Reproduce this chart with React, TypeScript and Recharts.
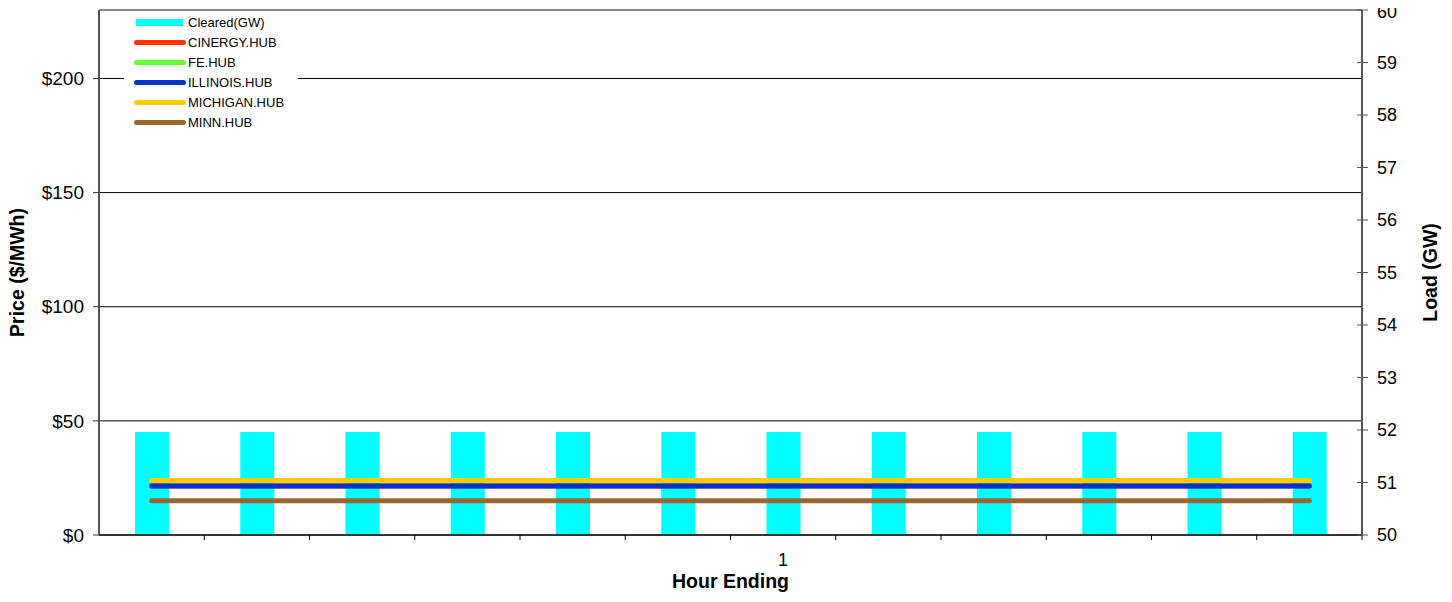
import React from 'react';
import { ComposedChart, Bar, Line, XAxis, YAxis, CartesianGrid, Legend, ReferenceLine } from 'recharts';

const FONT = "'Liberation Sans', Arial, sans-serif";

// hour buckets on the x axis, only one of them carries a label
const hours = [1, 2, 3, 4, 5, 6, 7, 8, 9, 10, 11, 12];
const hourLabels = ['', '', '', '', '', '', '1', '', '', '', '', ''];

// cleared load (GW) - right axis
const cleared = [51.96, 51.96, 51.96, 51.96, 51.96, 51.96, 51.96, 51.96, 51.96, 51.96, 51.96, 51.96];

// hub prices ($/MWh) - left axis
const cinergy = [21.5, 21.5, 21.5, 21.5, 21.5, 21.5, 21.5, 21.5, 21.5, 21.5, 21.5, 21.5];
const fe = [23.9, 23.9, 23.9, 23.9, 23.9, 23.9, 23.9, 23.9, 23.9, 23.9, 23.9, 23.9];
const illinois = [21.5, 21.5, 21.5, 21.5, 21.5, 21.5, 21.5, 21.5, 21.5, 21.5, 21.5, 21.5];
const michigan = [23.9, 23.9, 23.9, 23.9, 23.9, 23.9, 23.9, 23.9, 23.9, 23.9, 23.9, 23.9];
const minn = [15.0, 15.0, 15.0, 15.0, 15.0, 15.0, 15.0, 15.0, 15.0, 15.0, 15.0, 15.0];

const priceTicks = [0, 50, 100, 150, 200];
const loadTicks = [50, 51, 52, 53, 54, 55, 56, 57, 58, 59, 60];

const hubs = [
  { key: 'cinergy', name: 'CINERGY.HUB', color: '#FF3300', values: cinergy },
  { key: 'fe', name: 'FE.HUB', color: '#66FF33', values: fe },
  { key: 'illinois', name: 'ILLINOIS.HUB', color: '#0033CC', values: illinois },
  { key: 'michigan', name: 'MICHIGAN.HUB', color: '#FFCC00', values: michigan },
  { key: 'minn', name: 'MINN.HUB', color: '#996633', values: minn },
];

const data = hours.map((h, i) => {
  const row: Record<string, number> = { hour: h, cleared: cleared[i] };
  hubs.forEach(s => { row[s.key] = s.values[i]; });
  return row;
});

const BAND = (1362 - 99) / hours.length;

function HourTick(props: any) {
  const { x, y, payload } = props;
  const half = typeof payload.offset === 'number' && payload.offset > 0 ? payload.offset : BAND / 2;
  const axisY = y - 18;
  return (
    <g>
      <line x1={x + half} y1={axisY} x2={x + half} y2={axisY + 5} stroke="#000" />
      <text x={x} y={axisY + 18} dy="0.71em" textAnchor="middle" fontSize={18} fontFamily={FONT} fill="#000">
        {hourLabels[hours.indexOf(payload.value)]}
      </text>
    </g>
  );
}

function LoadTick(props: any) {
  const { x, y, payload } = props;
  const axisX = x - 15;
  // top label sits a touch lower, like the original
  const shift = payload.value === loadTicks[loadTicks.length - 1] ? 2 : 0;
  return (
    <g>
      <line x1={axisX - 5} y1={y} x2={axisX + 6} y2={y} stroke="#555" />
      <text x={x} y={y + shift} dy="0.355em" textAnchor="start" fontSize={18} fontFamily={FONT} fill="#000">
        {payload.value}
      </text>
    </g>
  );
}

const titleStyle = { fontSize: 19.5, fontWeight: 'bold' as const, fontFamily: FONT, fill: '#000' };

function VerticalTitle({ viewBox, text, dx }: any) {
  const cx = viewBox.x + dx;
  const cy = viewBox.y + viewBox.height / 2;
  return (
    <text x={cx} y={cy} dy="0.355em" textAnchor="middle" transform={`rotate(-90, ${cx}, ${cy})`} {...titleStyle}>
      {text}
    </text>
  );
}

function ChartLegend() {
  return (
    <div style={{ background: '#fff', width: 174, fontFamily: FONT, fontSize: 13, color: '#000' }}>
      <div style={{ display: 'flex', alignItems: 'center', height: 20 }}>
        <div style={{ marginLeft: 12, width: 47, height: 7, background: '#00FFFF' }} />
        <span style={{ marginLeft: 5 }}>Cleared(GW)</span>
      </div>
      {hubs.map(s => (
        <div key={s.key} style={{ display: 'flex', alignItems: 'center', height: 20 }}>
          <div style={{ marginLeft: 10, width: 52, height: 5, borderRadius: 3, background: s.color }} />
          <span style={{ marginLeft: 2 }}>{s.name}</span>
        </div>
      ))}
    </div>
  );
}

export default function App() {
  return (
    <div style={{ position: 'relative', top: -8, left: -8, width: 1452, height: 602 }}>
      <ComposedChart width={1452} height={602} data={data} margin={{ top: 10, right: 8, bottom: 0, left: 8 }}>
        <CartesianGrid yAxisId="left" vertical={false} stroke="#000" strokeWidth={1} />
        <XAxis
          dataKey="hour"
          interval={0}
          height={67}
          tickSize={5}
          tickMargin={13}
          tickLine={false}
          axisLine={{ stroke: '#333', strokeWidth: 2 }}
          tick={<HourTick />}
          label={{
            content: ({ viewBox }: any) => (
              <text x={viewBox.x + viewBox.width / 2} y={viewBox.y + 53} textAnchor="middle" {...titleStyle}>
                Hour Ending
              </text>
            ),
          }}
        />
        <YAxis
          yAxisId="left"
          orientation="left"
          width={91}
          domain={[0, 230]}
          ticks={priceTicks}
          tickFormatter={(v: number) => `$${v}`}
          tickSize={6}
          tickMargin={9}
          tickLine={{ stroke: '#333' }}
          axisLine={{ stroke: '#555', strokeWidth: 2 }}
          tick={{ fontSize: 19, fill: '#000', fontFamily: FONT }}
          label={{ content: (p: any) => <VerticalTitle viewBox={p.viewBox} text="Price ($/MWh)" dx={9} /> }}
        />
        <YAxis
          yAxisId="right"
          orientation="right"
          width={82}
          domain={[50, 60]}
          ticks={loadTicks}
          interval={0}
          tickSize={6}
          tickMargin={9}
          tickLine={false}
          axisLine={{ stroke: '#555', strokeWidth: 2 }}
          tick={<LoadTick />}
          label={{ content: (p: any) => <VerticalTitle viewBox={p.viewBox} text="Load (GW)" dx={68} /> }}
        />
        <ReferenceLine yAxisId="left" y={230} stroke="#888" strokeWidth={2} />
        <Bar yAxisId="right" dataKey="cleared" name="Cleared(GW)" fill="#00FFFF" barSize={34} isAnimationActive={false} />
        {hubs.map(s => (
          <Line
            key={s.key}
            yAxisId="left"
            type="linear"
            dataKey={s.key}
            name={s.name}
            stroke={s.color}
            strokeWidth={5}
            strokeLinecap="round"
            dot={false}
            activeDot={false}
            isAnimationActive={false}
          />
        ))}
        <Legend
          layout="vertical"
          align="center"
          verticalAlign="middle"
          content={<ChartLegend />}
          wrapperStyle={{ left: 124, top: 12, width: 174 }}
        />
      </ComposedChart>
    </div>
  );
}
